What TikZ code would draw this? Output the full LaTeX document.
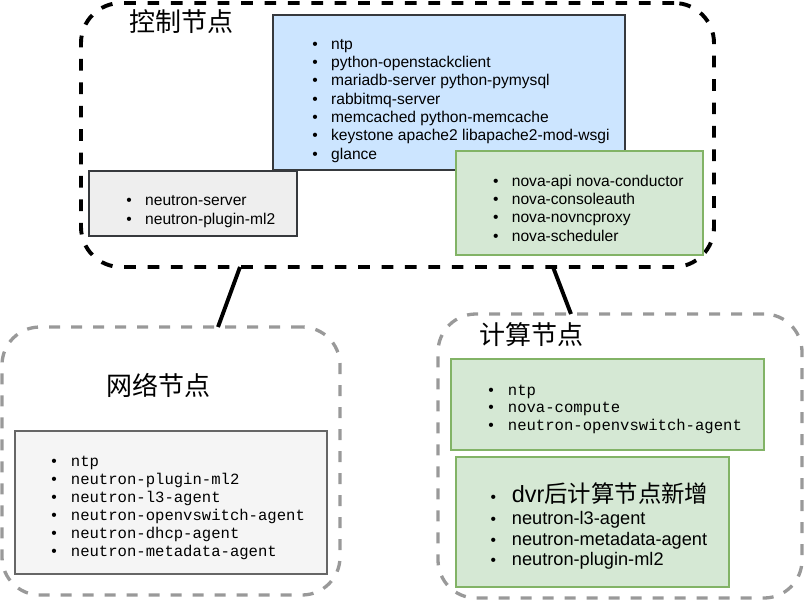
\documentclass[tikz,border=0pt]{standalone}
\usepackage{fontspec}
\setmainfont{Liberation Sans}
\setmonofont{Liberation Mono}
\newfontfamily\cjk{Noto Sans CJK SC}
\definecolor{dashgray}{HTML}{999999}
\definecolor{bluefill}{HTML}{CCE5FF}
\definecolor{darkline}{HTML}{36393D}
\definecolor{greyfill}{HTML}{EEEEEE}
\definecolor{lightfill}{HTML}{F5F5F5}
\definecolor{midline}{HTML}{666666}
\definecolor{greenfill}{HTML}{D5E8D4}
\definecolor{greenline}{HTML}{82B366}
\newcommand\bulletmark[1]{\llap{\makebox[0pt]{\fontsize{15.6}{18}\rmfamily\textbullet}\hspace{#1}}}
\begin{document}
\begin{tikzpicture}[x=1pt,y=-1pt,
  ctrlbox/.style={draw=black, line width=3.9pt, dash pattern=on 11.7pt off 11.7pt, rounded corners=40pt, inner sep=0, outer sep=0},
  grpbox/.style={draw=dashgray, line width=3.3pt, dash pattern=on 11pt off 11pt, rounded corners=38pt, inner sep=0, outer sep=0},
  link/.style={draw=black, line width=3.9pt},
  plainbox/.style={rectangle, line width=1.3pt, inner sep=0, outer sep=0},
  bluebox/.style={plainbox, draw=darkline, fill=bluefill},
  greybox/.style={plainbox, draw=darkline, fill=greyfill},
  lightbox/.style={plainbox, draw=midline, fill=lightfill},
  greenbox/.style={plainbox, draw=greenline, fill=greenfill},
  titletext/.style={font=\cjk\fontsize{26}{30}\selectfont, inner sep=0},
  sansitem/.style={anchor=base west, inner sep=0, font=\fontsize{15.6}{18}\selectfont},
  bigitem/.style={anchor=base west, inner sep=0, font=\fontsize{18.2}{21}\selectfont},
  monoitem/.style={anchor=base west, inner sep=0, font=\ttfamily\fontsize{15.6}{18}\selectfont},
]
\useasboundingbox (0,0) rectangle (805,602);

% containers
\node[ctrlbox, minimum width=633pt, minimum height=264pt] (ctrl) at (397.5,135) {};
\node[grpbox, minimum width=338pt, minimum height=268pt] (net) at (171,461) {};
\node[grpbox, minimum width=364pt, minimum height=284pt] (comp) at (620,456) {};

% connectors
\draw[link] ([xshift=-157.5pt]ctrl.south) -- ([xshift=47pt]net.north);
\draw[link] ([xshift=155.5pt]ctrl.south) -- ([xshift=-49pt]comp.north);

% titles
\node[titletext] (ctrltitle) at (181.5,21.5) {控制节点};
\node[titletext] (nettitle) at (158,385.5) {网络节点};
\node[titletext] (comptitle) at (531.7,334.5) {计算节点};

% inner boxes
\node[bluebox, minimum width=352pt, minimum height=155pt] (blue) at (449,92.5) {};
\node[greybox, minimum width=208pt, minimum height=65pt] (grey) at (193,203.5) {};
\node[greenbox, minimum width=247pt, minimum height=104pt] (nova) at (579.5,203) {};
\node[lightbox, minimum width=312pt, minimum height=143pt] (netin) at (171,502.5) {};
\node[greenbox, minimum width=313pt, minimum height=91pt] (compup) at (607.5,404.5) {};
\node[greenbox, minimum width=273pt, minimum height=130pt] (complo) at (592.5,522) {};

% blue list
\foreach \t [count=\i] in {ntp, python-openstackclient, mariadb-server python-pymysql, rabbitmq-server, memcached python-memcache, keystone apache2 libapache2-mod-wsgi, glance}
  \node[sansitem] (blueitem\i) at (331, {49.3+(\i-1)*18.33}) {\bulletmark{16pt}\t};

% grey list
\foreach \t [count=\i] in {neutron-server, neutron-plugin-ml2}
  \node[sansitem] (greyitem\i) at (145, {205.8+(\i-1)*18.3}) {\bulletmark{16pt}\t};

% nova list
\foreach \t [count=\i] in {nova-api nova-conductor, nova-consoleauth, nova-novncproxy, nova-scheduler}
  \node[sansitem] (novaitem\i) at (511.7, {186.7+(\i-1)*18.1}) {\bulletmark{16pt}\t};

% network list
\foreach \t [count=\i] in {ntp, neutron-plugin-ml2, neutron-l3-agent, neutron-openvswitch-agent, neutron-dhcp-agent, neutron-metadata-agent}
  \node[monoitem] (netitem\i) at (70.7, {466+(\i-1)*18.06}) {\bulletmark{16.7pt}\t};

% compute upper list
\foreach \t [count=\i] in {ntp, nova-compute, neutron-openvswitch-agent}
  \node[monoitem] (upitem\i) at (507.7, {395+(\i-1)*17.85}) {\bulletmark{16.7pt}\t};

% compute lower list
\node[anchor=base west, inner sep=0, font=\fontsize{23.4}{27}\selectfont] (loitem0) at (511.7,502.5) {\bulletmark{18.5pt}dvr{\cjk 后计算节点新增}};
\foreach \t [count=\i] in {neutron-l3-agent, neutron-metadata-agent, neutron-plugin-ml2}
  \node[bigitem] (loitem\i) at (511.7, {524.8+(\i-1)*20.5}) {\bulletmark{18.5pt}\t};
\end{tikzpicture}
\end{document}
